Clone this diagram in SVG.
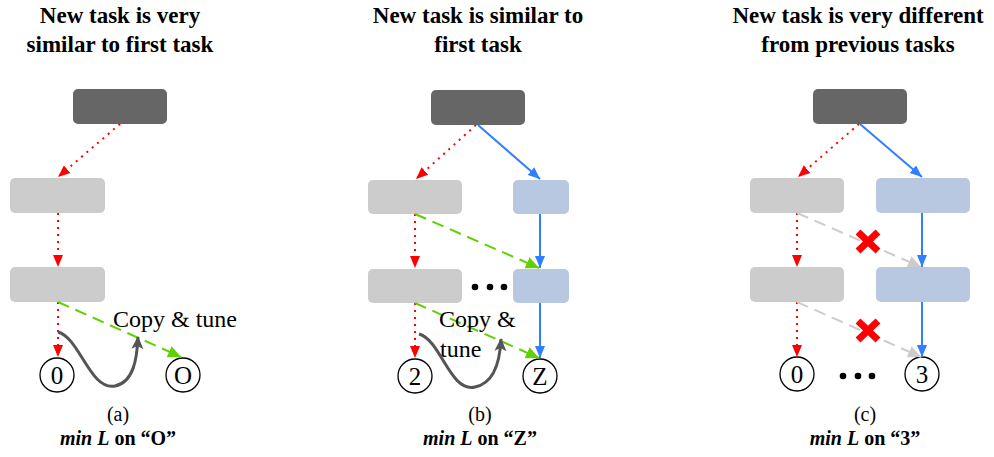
<svg xmlns="http://www.w3.org/2000/svg" width="994" height="457" viewBox="0 0 994 457">
<style>
.title{font-weight:bold;font-size:23px;fill:#000;text-anchor:middle}
.cap{font-size:20px;fill:#000;text-anchor:middle}
.sub{font-weight:bold;font-size:20px;fill:#000;text-anchor:middle}
.lbl{font-size:24px;fill:#000}
.num{font-size:25px;fill:#000;text-anchor:middle}
.dark{fill:#666666}
.grey{fill:#cccccc}
.blue{fill:#b8c8e0}
.circ{fill:#fff;stroke:#000;stroke-width:1.3}
.red{stroke:#ff0000;stroke-width:2;stroke-dasharray:2 5;fill:none}
.bl{stroke:#2f7fff;stroke-width:2;fill:none}
.gr{stroke:#5fd000;stroke-width:2;stroke-dasharray:12 7;fill:none}
.lg{stroke:#cccccc;stroke-width:2;stroke-dasharray:12 7;fill:none}
.cv{stroke:#555555;stroke-width:3;fill:none}
.x{stroke:#ff0000;stroke-width:7;fill:none}
</style>
<defs>
<marker id="mr" markerUnits="userSpaceOnUse" markerWidth="13" markerHeight="13" refX="12" refY="6.5" orient="auto"><path d="M0,1.5 L12,6.5 L0,11.5 Z" fill="#ff0000"/></marker>
<marker id="mb" markerUnits="userSpaceOnUse" markerWidth="13" markerHeight="13" refX="12" refY="6.5" orient="auto"><path d="M0,1.5 L12,6.5 L0,11.5 Z" fill="#2f7fff"/></marker>
<marker id="mg" markerUnits="userSpaceOnUse" markerWidth="14" markerHeight="14" refX="13" refY="7" orient="auto"><path d="M0,1 L13,7 L0,13 Z" fill="#5fd000"/></marker>
<marker id="ml" markerUnits="userSpaceOnUse" markerWidth="14" markerHeight="14" refX="13" refY="7" orient="auto"><path d="M0,1 L13,7 L0,13 Z" fill="#cccccc"/></marker>
<marker id="mc" markerUnits="userSpaceOnUse" markerWidth="16" markerHeight="16" refX="12" refY="8" orient="auto"><path d="M0,2 L13,8 L0,14 L3,8 Z" fill="#555555"/></marker>
</defs>

<g id="titles" font-family="Liberation Serif, Times New Roman, DejaVu Serif, serif">
<text class="title" x="120" y="23">New task is very</text>
<text class="title" x="120" y="52">similar to first task</text>
<text class="title" x="478" y="23">New task is similar to</text>
<text class="title" x="478" y="52">first task</text>
<text class="title" x="858" y="23">New task is very different</text>
<text class="title" x="858" y="52">from previous tasks</text>
</g>

<g id="a-top"><rect class="dark" x="73" y="89" width="94" height="35" rx="5"/></g>
<g id="a-l1"><rect class="grey" x="10" y="178" width="95" height="35" rx="5"/></g>
<g id="a-l2"><rect class="grey" x="10" y="267" width="95" height="35" rx="5"/></g>
<g id="a-out0" font-family="Liberation Serif, Times New Roman, DejaVu Serif, serif"><circle class="circ" cx="57" cy="375" r="17"/><text class="num" x="57" y="384">0</text></g>
<g id="a-outO" font-family="Liberation Serif, Times New Roman, DejaVu Serif, serif"><circle class="circ" cx="183" cy="375" r="17"/><text class="num" x="183" y="384">O</text></g>

<g id="b-top"><rect class="dark" x="431" y="90" width="94" height="35" rx="5"/></g>
<g id="b-l1"><rect class="grey" x="368" y="180" width="94" height="34" rx="5"/></g>
<g id="b-l2"><rect class="grey" x="368" y="269" width="94" height="34" rx="5"/></g>
<g id="b-r1"><rect class="blue" x="513" y="180" width="56" height="34" rx="5"/></g>
<g id="b-r2"><rect class="blue" x="513" y="269" width="56" height="34" rx="5"/></g>
<g id="b-out2" font-family="Liberation Serif, Times New Roman, DejaVu Serif, serif"><circle class="circ" cx="415" cy="376" r="17"/><text class="num" x="415" y="385">2</text></g>
<g id="b-outZ" font-family="Liberation Serif, Times New Roman, DejaVu Serif, serif"><circle class="circ" cx="540" cy="376" r="17"/><text class="num" x="540" y="385">Z</text></g>
<g id="b-dots"><circle cx="475" cy="287" r="3.3"/><circle cx="490" cy="287" r="3.3"/><circle cx="504" cy="287" r="3.3"/></g>

<g id="c-top"><rect class="dark" x="813" y="89" width="94" height="35" rx="5"/></g>
<g id="c-l1"><rect class="grey" x="750" y="178" width="94" height="35" rx="5"/></g>
<g id="c-l2"><rect class="grey" x="750" y="267" width="94" height="35" rx="5"/></g>
<g id="c-r1"><rect class="blue" x="876" y="178" width="94" height="35" rx="5"/></g>
<g id="c-r2"><rect class="blue" x="876" y="267" width="94" height="35" rx="5"/></g>
<g id="c-out0" font-family="Liberation Serif, Times New Roman, DejaVu Serif, serif"><circle class="circ" cx="797" cy="374" r="17"/><text class="num" x="797" y="383">0</text></g>
<g id="c-out3" font-family="Liberation Serif, Times New Roman, DejaVu Serif, serif"><circle class="circ" cx="922" cy="374" r="17"/><text class="num" x="922" y="383">3</text></g>
<g id="c-dots"><circle cx="843" cy="376" r="3.3"/><circle cx="858" cy="376" r="3.3"/><circle cx="872" cy="376" r="3.3"/></g>

<g id="connectors">
<path class="red" d="M120,124 L58,177" marker-end="url(#mr)"/>
<path class="red" d="M58,213 L58,267" marker-end="url(#mr)"/>
<path class="red" d="M58,302 L58,357" marker-end="url(#mr)"/>
<path class="gr" d="M58,302 L181,357" marker-end="url(#mg)"/>
<path class="cv" d="M58,332 C80,338 90,391 115,386 C134,382 137,358 138,337" marker-end="url(#mc)"/>
<path class="red" d="M476,125 L416,179" marker-end="url(#mr)"/>
<path class="red" d="M415,214 L415,268" marker-end="url(#mr)"/>
<path class="red" d="M415,303 L415,358" marker-end="url(#mr)"/>
<path class="bl" d="M478,125 L540,179" marker-end="url(#mb)"/>
<path class="bl" d="M540,214 L540,268" marker-end="url(#mb)"/>
<path class="bl" d="M540,303 L540,358" marker-end="url(#mb)"/>
<path class="gr" d="M415,214 L539,268" marker-end="url(#mg)"/>
<path class="gr" d="M415,303 L539,358" marker-end="url(#mg)"/>
<path class="cv" d="M419,334 C441,340 450,393 475,387 C495,383 500,360 501,339" marker-end="url(#mc)"/>
<path class="red" d="M859,124 L798,177" marker-end="url(#mr)"/>
<path class="red" d="M797,213 L797,267" marker-end="url(#mr)"/>
<path class="red" d="M797,302 L797,357" marker-end="url(#mr)"/>
<path class="bl" d="M860,124 L922,177" marker-end="url(#mb)"/>
<path class="bl" d="M922,213 L922,267" marker-end="url(#mb)"/>
<path class="bl" d="M922,302 L922,357" marker-end="url(#mb)"/>
<path class="lg" d="M797,213 L921,267" marker-end="url(#ml)"/>
<path class="lg" d="M797,302 L921,357" marker-end="url(#ml)"/>
<path class="x" d="M858,232 L878,251 M878,232 L858,251"/>
<path class="x" d="M858,321 L878,340 M878,321 L858,340"/>
</g>

<g id="labels" font-family="Liberation Serif, Times New Roman, DejaVu Serif, serif">
<text class="lbl" x="113" y="327">Copy &amp; tune</text>
<text class="lbl" x="439" y="327">Copy &amp;</text>
<text class="lbl" x="440" y="357">tune</text>
<text class="cap" x="118" y="421">(a)</text>
<text class="sub" x="118" y="445"><tspan font-style="italic">min L</tspan> on “O”</text>
<text class="cap" x="480" y="421">(b)</text>
<text class="sub" x="480" y="445"><tspan font-style="italic">min L</tspan> on “Z”</text>
<text class="cap" x="865" y="421">(c)</text>
<text class="sub" x="865" y="445"><tspan font-style="italic">min L</tspan> on “3”</text>
</g>
</svg>
